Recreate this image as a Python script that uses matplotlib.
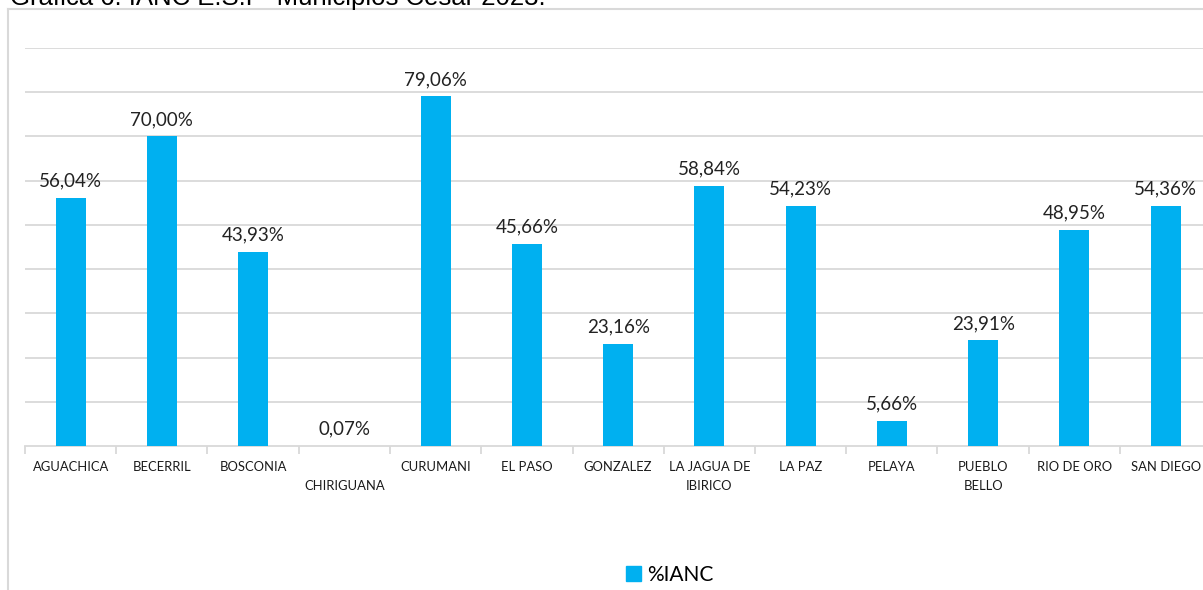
import numpy as np
import matplotlib
matplotlib.use("Agg")
import matplotlib.pyplot as plt

municipios = ["AGUACHICA", "BECERRIL", "BOSCONIA", "\nCHIRIGUANA", "CURUMANI",
              "EL PASO", "GONZALEZ", "LA JAGUA DE\nIBIRICO", "LA PAZ", "PELAYA",
              "PUEBLO\nBELLO", "RIO DE ORO", "SAN DIEGO"]
ianc = [56.04, 70.00, 43.93, 0.07, 79.06, 45.66, 23.16, 58.84, 54.23, 5.66,
        23.91, 48.95, 54.36]

W, H = 1203, 590
fig = plt.figure(figsize=(W / 100, H / 100), dpi=100)

# outer chart frame (runs off the right and bottom edges)
frame = fig.add_axes([8 / W, -0.02, 1.05, 1 - 9 / H + 0.02])
frame.set_xticks([])
frame.set_yticks([])
frame.patch.set_alpha(0)
for s in frame.spines.values():
    s.set_color("#d9d9d9")
    s.set_linewidth(1.5)

fig.text(10 / W, 1 - 5 / H, "Gráfica 6. IANC E.S.P  Municipios Cesar 2023.",
         family="Liberation Sans", fontsize=18.5, va="baseline", ha="left")

step = 91.25
left, bottom, top = 25, 446, 48
ax = fig.add_axes([left / W, 1 - bottom / H, len(municipios) * step / W,
                   (bottom - top) / H])
x = np.arange(len(municipios))
bars = ax.bar(x, ianc, width=0.33, color="#00B0F0", zorder=3)

ax.set_xlim(-0.5, len(municipios) - 0.5)
ax.set_ylim(0, 90)
ax.set_yticks(np.arange(10, 91, 10))
ax.yaxis.grid(True, color="#d9d9d9", linewidth=1.3, zorder=0)
ax.tick_params(axis="y", left=False, labelleft=False)
for s in ["top", "right", "left"]:
    ax.spines[s].set_visible(False)
ax.spines["bottom"].set_color("#d9d9d9")
ax.spines["bottom"].set_linewidth(1.3)

ax.set_xticks(x)
ax.set_xticklabels(municipios, family="Lato", fontsize=9.4, color="#1a1a1a",
                   linespacing=1.65)
ax.tick_params(axis="x", length=0, pad=11)
ax.set_xticks(np.arange(-0.5, len(municipios), 1), minor=True)
ax.tick_params(axis="x", which="minor", length=6, color="#d9d9d9", width=1.3)

for b, v in zip(bars, ianc):
    ax.annotate(f"{v:.2f}%".replace(".", ","), (b.get_x() + b.get_width() / 2, v),
                xytext=(0, 6), textcoords="offset points", ha="center",
                va="bottom", family="Lato", fontsize=13.5, color="#222222")

fig.legend(handles=[plt.Rectangle((0, 0), 1, 1, color="#00B0F0")],
           labels=["%IANC"], loc="center", bbox_to_anchor=(670 / W, 1 - 575 / H),
           frameon=False, prop={"family": "Lato", "size": 15},
           handlelength=0.7, handleheight=0.7, handletextpad=0.3)

fig.savefig("out.png", dpi=100)
